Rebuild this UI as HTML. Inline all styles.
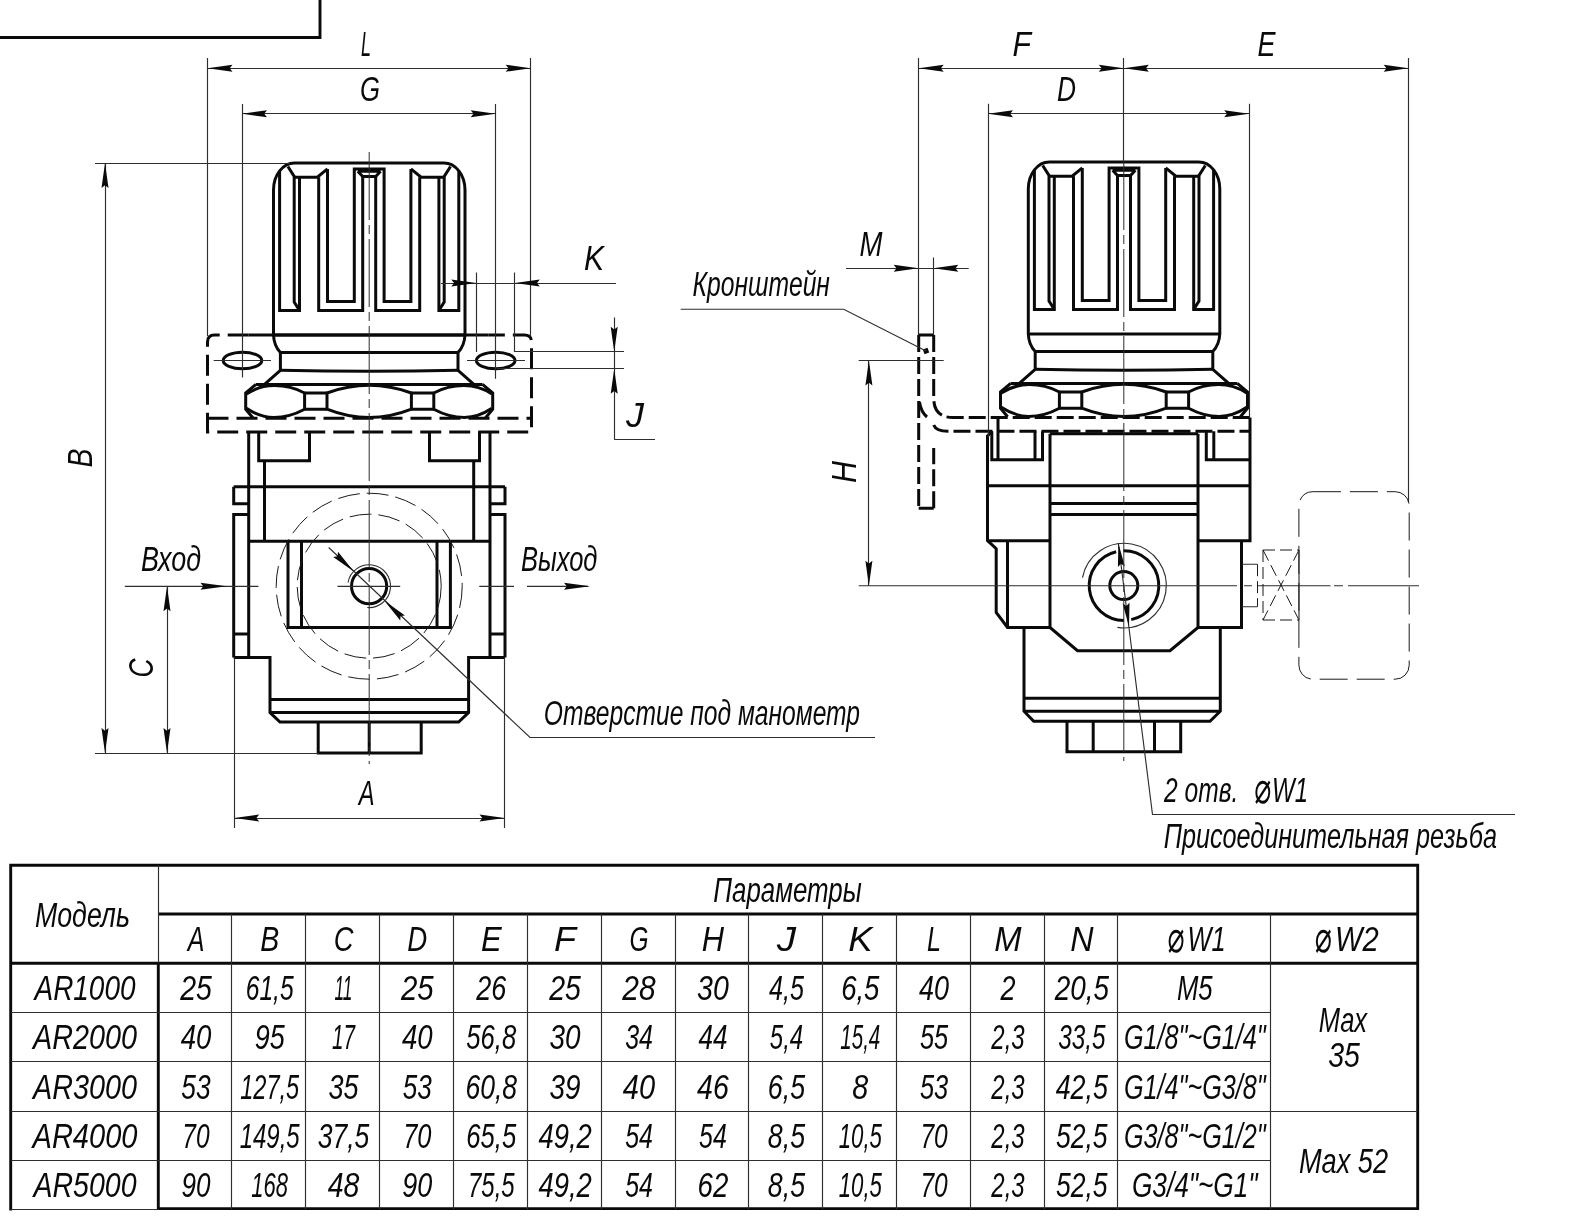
<!DOCTYPE html>
<html lang="ru"><head><meta charset="utf-8"><title>AR regulator dimensions</title>
<style>
html,body{margin:0;padding:0;background:#fff}
svg{display:block;filter:grayscale(1)}
.k{fill:none;stroke:#0a0a0a;stroke-width:3.0;stroke-linejoin:miter;stroke-linecap:butt}
.k3{fill:none;stroke:#0a0a0a;stroke-width:2.9}
.kd{fill:none;stroke:#0a0a0a;stroke-width:3.0;stroke-dasharray:21 8}
.kd2{fill:none;stroke:#0a0a0a;stroke-width:3.0;stroke-dasharray:17 5}
.n{fill:none;stroke:#2e2e2e;stroke-width:1.15}
.g{fill:none;stroke:#2e2e2e;stroke-width:1.15}
.nc{fill:none;stroke:#2e2e2e;stroke-width:1.0;stroke-dasharray:68 5 9 5}
.nd{fill:none;stroke:#1a1a1a;stroke-width:1.0;stroke-dasharray:22 7}
.nd2{fill:none;stroke:#1a1a1a;stroke-width:1.0;stroke-dasharray:28 9}
.nd3{fill:none;stroke:#1a1a1a;stroke-width:1.0;stroke-dasharray:12 5}
.ar{fill:#0a0a0a;stroke:none}
.t{font-family:"Liberation Sans","DejaVu Sans",sans-serif;font-style:italic;font-size:34.5px;fill:#0a0a0a}
.d{font-size:44px}
</style></head><body>
<svg width="1577" height="1231" viewBox="0 0 1577 1231">
<rect width="1577" height="1231" fill="#fff"/>
<defs>
<g id="ribs">
<path class="k" d="M279.6,171 V310.4 H299.5 V177.2"/>
<path class="k" d="M287.9,166.5 L294.2,176.5 V302 L299.5,310.4"/>
<path class="k" d="M294.2,177.2 H317.3 L327.5,168.9"/>
<path class="k" d="M318.7,177.2 V310.4 H362.7 V176.5"/>
<path class="k" d="M327.5,168.9 V301.6 H354.3 V168.9 H369.5"/>
<path class="k" d="M357.8,171.3 L362.7,176.5 H369.5 M357.8,171.3 H369.5"/>
</g>
<g id="knob">
<path class="k" d="M273.5,335 V190 A21,27 0 0 1 294.5,163 H444 A21,27 0 0 1 465,190 V335"/>
<use href="#ribs"/><use href="#ribs" transform="translate(738.4,0) scale(-1,1)"/>
<path class="k" d="M273.5,335 H465"/>
<path class="k" d="M273.5,335 Q274,346 280.4,352.5 V370.3 L264.5,384.4 M255.9,384.4 H482.5 M473.9,384.4 L458,370.3 V352.5 Q464.4,346 465,335"/>
<path class="k" d="M280.4,352.5 H458 M280.4,370.3 Q369,372.3 458,370.3"/>
<g id="lobe">
<path class="k" d="M255.9,384.4 L245.7,393 V409.2 L252.8,417.8"/>
<path class="k" d="M246.5,394 C255,388.5 264,385.6 274.5,385.6 C287,385.6 297,389 304.6,393 V409.2 C297,413.3 287,417.4 274,417.4 C264,417.4 255,414 246.5,408.3"/>
<path class="k" d="M304.6,393 H327 M304.6,409.2 H327"/>
</g>
<use href="#lobe" transform="translate(738.4,0) scale(-1,1)"/>
<path class="k" d="M327,393 V409.2 Q369.2,426 411.4,409.2 V393 Q369.2,377.6 327,393 Z"/>
</g>
</defs>
<path class="k3" d="M0,37.5 H320 V0"/>
<use href="#knob"/>
<path class="kd" d="M248.7,335 H214.5 Q207.5,335 207.5,342 V432 H531.5 V342 Q531.5,335 524.5,335 H488.7"/>
<path class="kd" d="M207.5,418.2 H531.5"/>
<path class="k" d="M248.7,335 H488.7"/>
<ellipse class="k" cx="242.5" cy="360.5" rx="19.3" ry="8.3"/>
<ellipse class="k" cx="495.7" cy="360.5" rx="19.3" ry="8.3"/>
<line class="n" x1="213.7" y1="360.5" x2="271.0" y2="360.5"/>
<line class="n" x1="467.0" y1="360.5" x2="525.0" y2="360.5"/>
<path class="k" d="M248.7,431.7 V657.5 M490,431.7 V657.5"/>
<path class="k" d="M258.7,431.7 V460.7 H309.5 V431.7 M429.5,431.7 V460.7 H479.5 V431.7"/>
<path class="k" d="M264.5,460.7 V541.2 M473.7,460.7 V541.2"/>
<path class="k" d="M233.7,486.7 H505"/>
<path class="k" d="M233.7,486.7 V503.7 H248.7 M248.7,514.5 H233.7 V657.5 M233.7,633.9 H248.7"/>
<path class="k" d="M505,486.7 V503.7 H490 M490,514.5 H505 V657.5 M505,633.9 H490"/>
<path class="k" d="M248.7,541.2 H490"/>
<path class="k" d="M288,541.2 V627.5 H450.4 V541.2 M301.5,541.2 V627.5 M437,541.2 V627.5"/>
<path class="k" d="M233.7,657.5 H270 V712.5 L280,722 H458.6 L468.6,712.5 V657.5 H505"/>
<path class="k" d="M270,699.5 H468.6 M270,712.5 H468.6"/>
<path class="k" d="M318.2,722 V753 H421.2 V722 M369.2,722 V753"/>
<circle class="nd" cx="369.2" cy="586.2" r="93"/>
<circle class="nd" cx="369.2" cy="586.2" r="72"/>
<circle class="k" cx="369.1" cy="586.2" r="17.6"/>
<path class="n" d="M348.03,582.48 A21.40,21.40 0 1 1 367.23,607.52"/>
<path class="nc" d="M369.2,152 V764"/>
<path class="n" d="M124.8,586.3 H258.4 M337.5,586.3 H400.2 M479.3,586.3 H514 M527,586.3 H588"/>
<line class="n" x1="207.5" y1="58.0" x2="207.5" y2="336.0"/>
<line class="n" x1="530.5" y1="58.0" x2="530.5" y2="336.0"/>
<line class="n" x1="207.5" y1="68.5" x2="530.7" y2="68.5"/>
<polygon class="ar" points="207.5,68.2 232.5,64.7 229.7,68.2 232.5,71.7"/>
<polygon class="ar" points="530.7,68.2 505.7,71.7 508.5,68.2 505.7,64.7"/>
<line class="n" x1="242.5" y1="104.0" x2="242.5" y2="377.5"/>
<line class="n" x1="495.5" y1="104.0" x2="495.5" y2="378.7"/>
<line class="n" x1="242.0" y1="113.5" x2="495.7" y2="113.5"/>
<polygon class="ar" points="242.0,113.7 267.0,110.2 264.2,113.7 267.0,117.2"/>
<polygon class="ar" points="495.7,113.7 470.7,117.2 473.5,113.7 470.7,110.2"/>
<line class="n" x1="95.0" y1="163.5" x2="290.0" y2="163.5"/>
<line class="n" x1="95.0" y1="753.5" x2="318.5" y2="753.5"/>
<line class="n" x1="105.5" y1="163.0" x2="105.5" y2="753.0"/>
<polygon class="ar" points="105.0,163.0 108.5,188.0 105.0,185.2 101.5,188.0"/>
<polygon class="ar" points="105.0,753.0 101.5,728.0 105.0,730.8 108.5,728.0"/>
<line class="n" x1="167.5" y1="586.3" x2="167.5" y2="753.0"/>
<polygon class="ar" points="167.0,586.3 170.5,611.3 167.0,608.5 163.5,611.3"/>
<polygon class="ar" points="167.0,753.0 163.5,728.0 167.0,730.8 170.5,728.0"/>
<polygon class="ar" points="226.5,586.3 200.5,589.8 203.3,586.3 200.5,582.8"/>
<polygon class="ar" points="590.0,586.3 564.0,589.8 566.8,586.3 564.0,582.8"/>
<line class="n" x1="476.5" y1="272.5" x2="476.5" y2="352.0"/>
<line class="n" x1="514.5" y1="272.5" x2="514.5" y2="352.0"/>
<line class="n" x1="441.0" y1="283.5" x2="616.0" y2="283.5"/>
<polygon class="ar" points="476.3,283.0 451.3,286.5 454.1,283.0 451.3,279.5"/>
<polygon class="ar" points="514.8,283.0 539.8,279.5 537.0,283.0 539.8,286.5"/>
<line class="n" x1="515.0" y1="351.5" x2="624.0" y2="351.5"/>
<line class="n" x1="497.0" y1="368.5" x2="624.0" y2="368.5"/>
<line class="n" x1="614.5" y1="317.5" x2="614.5" y2="439.5"/>
<line class="n" x1="614.2" y1="439.5" x2="655.0" y2="439.5"/>
<polygon class="ar" points="614.2,351.7 610.7,326.7 614.2,329.5 617.7,326.7"/>
<polygon class="ar" points="614.2,368.7 617.7,393.7 614.2,390.9 610.7,393.7"/>
<line class="n" x1="234.5" y1="657.5" x2="234.5" y2="828.0"/>
<line class="n" x1="504.5" y1="657.5" x2="504.5" y2="828.0"/>
<line class="n" x1="234.2" y1="818.5" x2="504.5" y2="818.5"/>
<polygon class="ar" points="234.2,818.0 259.2,814.5 256.4,818.0 259.2,821.5"/>
<polygon class="ar" points="504.5,818.0 479.5,821.5 482.3,818.0 479.5,814.5"/>
<path class="n" d="M328.7,547.5 L530,737.5 H875"/>
<polygon class="ar" points="353.8,571.5 333.2,556.9 337.6,556.3 338.0,551.8"/>
<polygon class="ar" points="384.4,600.8 405.0,615.4 400.6,616.0 400.2,620.5"/>
<use href="#knob" transform="translate(754.8,-1)"/>
<path class="k" d="M918.7,335 H933.7 M918.7,508.2 H933.7"/>
<path class="kd2" d="M918.7,335 V508.2 M933.7,335 V398 Q933.7,417.5 953,417.5 H1250"/>
<path class="kd2" d="M933.7,508.2 V448 M933.7,425 Q936,431.2 948,431.2 H1250"/>
<path class="k" d="M919.5,402 Q921,412 927,417"/>
<rect class="ar" x="923.5" y="348.5" width="5" height="5" transform="rotate(-20 926 351)"/>
<path class="k" d="M987.5,436 L992,431.2 M987.5,435 V540.5 L996.2,548.7 V612.5 L1007.5,627.5 H1050"/>
<path class="k" d="M998,417.5 V459.7 M991.8,431.2 V459.7 H1042.5 V431.2 M1035,431.2 V459.7"/>
<path class="k" d="M1050,433.7 H1198 M1050,433.7 V627.5 L1077.5,650.7 H1170 L1198,627.5 V433.7"/>
<path class="k" d="M987.5,485.7 H1250 M1050,503.5 H1198 M1050,514.5 H1198"/>
<path class="k" d="M987.5,540.7 H1050 M1007.5,540.7 V627.5"/>
<path class="k" d="M1250,417.5 V540.7 H1198 M1241.5,540.7 V627.5 H1198"/>
<path class="k" d="M1206.3,431.2 V459.7 H1250 M1213.8,431.2 V459.7"/>
<path class="k" d="M1024,627.5 V711.2 L1033.7,721.3 H1210 L1220.3,711.2 V627.5 M1024,698.2 H1220.3 M1024,711.2 H1220.3"/>
<path class="k" d="M1067,721.3 V751.8 H1180.7 V721.3 M1093.2,721.3 V751.8 M1154.5,721.3 V751.8"/>
<circle class="k" cx="1123.8" cy="585.6" r="14"/>
<path class="k" d="M1123.39,550.81 A34.80,34.80 0 0 1 1131.24,619.64"/>
<path class="k" d="M1124.00,620.40 A34.80,34.80 0 0 1 1116.17,551.69"/>
<path class="n" d="M1082.48,577.53 A42.30,42.30 0 1 1 1117.38,627.38"/>
<path class="n" d="M1118.3,543 L1152.5,814.5 H1515"/>
<polygon class="ar" points="1118.4,543.3 1124.8,566.2 1121.0,563.8 1117.9,567.1"/>
<polygon class="ar" points="1129.0,626.5 1122.6,603.6 1126.4,606.0 1129.5,602.7"/>
<line class="n" x1="1123.5" y1="58.0" x2="1123.5" y2="162.0"/>
<path class="nc" d="M1123.8,162 V761"/>
<path class="n" d="M858.7,585.7 H1237 M1244,585.7 H1252 M1258,585.7 H1330.5 M1334,585.7 H1343 M1348,585.7 H1419"/>
<line class="n" x1="918.5" y1="58.0" x2="918.5" y2="335.0"/>
<line class="n" x1="1408.5" y1="58.0" x2="1408.5" y2="502.0"/>
<line class="n" x1="918.7" y1="68.5" x2="1408.7" y2="68.5"/>
<polygon class="ar" points="918.7,68.2 943.7,64.7 940.9,68.2 943.7,71.7"/>
<polygon class="ar" points="1123.8,68.2 1098.8,71.7 1101.6,68.2 1098.8,64.7"/>
<polygon class="ar" points="1123.8,68.2 1148.8,64.7 1146.0,68.2 1148.8,71.7"/>
<polygon class="ar" points="1408.7,68.2 1383.7,71.7 1386.5,68.2 1383.7,64.7"/>
<line class="n" x1="988.5" y1="103.7" x2="988.5" y2="437.0"/>
<line class="n" x1="1249.5" y1="103.7" x2="1249.5" y2="417.0"/>
<line class="n" x1="988.0" y1="113.5" x2="1249.2" y2="113.5"/>
<polygon class="ar" points="988.0,113.7 1013.0,110.2 1010.2,113.7 1013.0,117.2"/>
<polygon class="ar" points="1249.2,113.7 1224.2,117.2 1227.0,113.7 1224.2,110.2"/>
<line class="n" x1="933.5" y1="257.5" x2="933.5" y2="335.0"/>
<line class="n" x1="846.0" y1="268.5" x2="968.7" y2="268.5"/>
<polygon class="ar" points="918.7,268.2 893.7,271.7 896.5,268.2 893.7,264.7"/>
<polygon class="ar" points="933.3,268.2 958.3,264.7 955.5,268.2 958.3,271.7"/>
<line class="n" x1="858.7" y1="360.5" x2="943.7" y2="360.5"/>
<line class="n" x1="868.5" y1="360.5" x2="868.5" y2="585.7"/>
<polygon class="ar" points="868.9,360.5 872.4,385.5 868.9,382.7 865.4,385.5"/>
<polygon class="ar" points="868.9,585.7 865.4,560.7 868.9,563.5 872.4,560.7"/>
<path class="n" d="M680.7,309.2 H843.7 L926,351"/>
<rect class="nd2" x="1298.9" y="491.7" width="110.3" height="187.5" rx="14" ry="14"/>
<path class="nd3" d="M1263,550 H1299 M1263,620 H1299 M1263,550 V620 M1263,550 L1299,620 M1299,550 L1263,620 M1257.5,564.2 V606.7"/>
<path class="n" d="M1241.7,564.2 H1257.5 M1241.7,606.7 H1257.5 M1299,550 V620"/>
<text class="t" x="366.0" y="56.0" text-anchor="middle" textLength="10.0" lengthAdjust="spacingAndGlyphs">L</text>
<text class="t" x="370.0" y="101.0" text-anchor="middle" textLength="20.0" lengthAdjust="spacingAndGlyphs">G</text>
<text class="t" x="1021.8" y="55.5" text-anchor="middle" textLength="18.5" lengthAdjust="spacingAndGlyphs">F</text>
<text class="t" x="1066.5" y="101.0" text-anchor="middle" textLength="19.0" lengthAdjust="spacingAndGlyphs">D</text>
<text class="t" x="1266.5" y="55.5" text-anchor="middle" textLength="18.0" lengthAdjust="spacingAndGlyphs">E</text>
<text class="t" x="594.0" y="270.0" text-anchor="middle" textLength="20.0" lengthAdjust="spacingAndGlyphs">K</text>
<text class="t" x="635.0" y="427.0" text-anchor="middle" textLength="18.0" lengthAdjust="spacingAndGlyphs">J</text>
<text class="t" x="871.0" y="256.0" text-anchor="middle" textLength="23.0" lengthAdjust="spacingAndGlyphs">M</text>
<text class="t" x="366.6" y="805.0" text-anchor="middle" textLength="15.8" lengthAdjust="spacingAndGlyphs">A</text>
<text class="t" x="92.0" y="458.0" text-anchor="middle" textLength="19.0" lengthAdjust="spacingAndGlyphs" transform="rotate(-90 92.0 458.0)">B</text>
<text class="t" x="153.0" y="668.0" text-anchor="middle" textLength="19.0" lengthAdjust="spacingAndGlyphs" transform="rotate(-90 153.0 668.0)">C</text>
<text class="t" x="856.0" y="472.0" text-anchor="middle" textLength="22.0" lengthAdjust="spacingAndGlyphs" transform="rotate(-90 856.0 472.0)">H</text>
<text class="t" x="171.0" y="571.0" text-anchor="middle" textLength="60.0" lengthAdjust="spacingAndGlyphs">Вход</text>
<text class="t" x="559.2" y="570.7" text-anchor="middle" textLength="76.5" lengthAdjust="spacingAndGlyphs">Выход</text>
<text class="t" x="761.2" y="296.0" text-anchor="middle" textLength="137.5" lengthAdjust="spacingAndGlyphs">Кронштейн</text>
<text class="t" x="701.9" y="725.0" text-anchor="middle" textLength="316.3" lengthAdjust="spacingAndGlyphs">Отверстие под манометр</text>
<text class="t" x="1201.2" y="802.0" text-anchor="middle" textLength="74.3" lengthAdjust="spacingAndGlyphs">2 отв.</text>
<text class="t d" x="1262.0" y="802.5" text-anchor="middle" textLength="17.1" lengthAdjust="spacingAndGlyphs">⌀</text>
<text class="t" x="1290.0" y="802.0" text-anchor="middle" textLength="36.0" lengthAdjust="spacingAndGlyphs">W1</text>
<text class="t" x="1330.3" y="847.5" text-anchor="middle" textLength="333.3" lengthAdjust="spacingAndGlyphs">Присоединительная резьба</text>
<path class="k3" d="M10.7,1210.5 V865.2 H1417.7 V1208.6 H158.3 V963.3"/>
<path class="k3" d="M158.3,914 H1417.7 M11,963.3 H1417.7"/>
<line class="g" x1="158.5" y1="865.0" x2="158.5" y2="963.3"/>
<line class="g" x1="231.5" y1="914.0" x2="231.5" y2="1209.3"/>
<line class="g" x1="305.5" y1="914.0" x2="305.5" y2="1209.3"/>
<line class="g" x1="379.5" y1="914.0" x2="379.5" y2="1209.3"/>
<line class="g" x1="453.5" y1="914.0" x2="453.5" y2="1209.3"/>
<line class="g" x1="527.5" y1="914.0" x2="527.5" y2="1209.3"/>
<line class="g" x1="601.5" y1="914.0" x2="601.5" y2="1209.3"/>
<line class="g" x1="675.5" y1="914.0" x2="675.5" y2="1209.3"/>
<line class="g" x1="748.5" y1="914.0" x2="748.5" y2="1209.3"/>
<line class="g" x1="822.5" y1="914.0" x2="822.5" y2="1209.3"/>
<line class="g" x1="896.5" y1="914.0" x2="896.5" y2="1209.3"/>
<line class="g" x1="970.5" y1="914.0" x2="970.5" y2="1209.3"/>
<line class="g" x1="1044.5" y1="914.0" x2="1044.5" y2="1209.3"/>
<line class="g" x1="1117.5" y1="914.0" x2="1117.5" y2="1209.3"/>
<line class="g" x1="1270.5" y1="914.0" x2="1270.5" y2="1209.3"/>
<line class="g" x1="11.0" y1="1012.5" x2="1270.0" y2="1012.5"/>
<line class="g" x1="11.0" y1="1061.5" x2="1270.0" y2="1061.5"/>
<line class="g" x1="11.0" y1="1111.5" x2="1417.7" y2="1111.5"/>
<line class="g" x1="11.0" y1="1160.5" x2="1270.0" y2="1160.5"/>
<line class="g" x1="11.0" y1="1209.5" x2="158.3" y2="1209.5"/>
<text class="t" x="82.5" y="927.0" text-anchor="middle" textLength="95.0" lengthAdjust="spacingAndGlyphs">Модель</text>
<text class="t" x="787.5" y="902.3" text-anchor="middle" textLength="148.5" lengthAdjust="spacingAndGlyphs">Параметры</text>
<text class="t d" x="1175.2" y="951.8" text-anchor="middle" textLength="17.1" lengthAdjust="spacingAndGlyphs">⌀</text>
<text class="t" x="1206.5" y="951.3" text-anchor="middle" textLength="38.1" lengthAdjust="spacingAndGlyphs">W1</text>
<text class="t d" x="1322.6" y="951.8" text-anchor="middle" textLength="17.2" lengthAdjust="spacingAndGlyphs">⌀</text>
<text class="t" x="1356.8" y="951.3" text-anchor="middle" textLength="43.7" lengthAdjust="spacingAndGlyphs">W2</text>
<text class="t" x="196.0" y="951.0" text-anchor="middle" textLength="16.7" lengthAdjust="spacingAndGlyphs">A</text>
<text class="t" x="269.7" y="951.0" text-anchor="middle" textLength="19.0" lengthAdjust="spacingAndGlyphs">B</text>
<text class="t" x="343.5" y="951.0" text-anchor="middle" textLength="19.7" lengthAdjust="spacingAndGlyphs">C</text>
<text class="t" x="417.3" y="951.0" text-anchor="middle" textLength="20.0" lengthAdjust="spacingAndGlyphs">D</text>
<text class="t" x="491.3" y="951.0" text-anchor="middle" textLength="20.7" lengthAdjust="spacingAndGlyphs">E</text>
<text class="t" x="565.1" y="951.0" text-anchor="middle" textLength="22.0" lengthAdjust="spacingAndGlyphs">F</text>
<text class="t" x="639.0" y="951.0" text-anchor="middle" textLength="19.0" lengthAdjust="spacingAndGlyphs">G</text>
<text class="t" x="712.9" y="951.0" text-anchor="middle" textLength="22.3" lengthAdjust="spacingAndGlyphs">H</text>
<text class="t" x="786.5" y="951.0" text-anchor="middle" textLength="19.3" lengthAdjust="spacingAndGlyphs">J</text>
<text class="t" x="860.3" y="951.0" text-anchor="middle" textLength="24.3" lengthAdjust="spacingAndGlyphs">K</text>
<text class="t" x="934.1" y="951.0" text-anchor="middle" textLength="14.0" lengthAdjust="spacingAndGlyphs">L</text>
<text class="t" x="1008.0" y="951.0" text-anchor="middle" textLength="27.3" lengthAdjust="spacingAndGlyphs">M</text>
<text class="t" x="1081.8" y="951.0" text-anchor="middle" textLength="23.3" lengthAdjust="spacingAndGlyphs">N</text>
<text class="t" x="85.0" y="1000.0" text-anchor="middle" textLength="101.0" lengthAdjust="spacingAndGlyphs">AR1000</text>
<text class="t" x="196.0" y="1000.0" text-anchor="middle" textLength="31.7" lengthAdjust="spacingAndGlyphs">25</text>
<text class="t" x="269.7" y="1000.0" text-anchor="middle" textLength="48.0" lengthAdjust="spacingAndGlyphs">61,5</text>
<text class="t" x="343.5" y="1000.0" text-anchor="middle" textLength="18.0" lengthAdjust="spacingAndGlyphs">11</text>
<text class="t" x="417.3" y="1000.0" text-anchor="middle" textLength="32.7" lengthAdjust="spacingAndGlyphs">25</text>
<text class="t" x="491.3" y="1000.0" text-anchor="middle" textLength="30.0" lengthAdjust="spacingAndGlyphs">26</text>
<text class="t" x="565.1" y="1000.0" text-anchor="middle" textLength="31.7" lengthAdjust="spacingAndGlyphs">25</text>
<text class="t" x="639.0" y="1000.0" text-anchor="middle" textLength="33.3" lengthAdjust="spacingAndGlyphs">28</text>
<text class="t" x="712.9" y="1000.0" text-anchor="middle" textLength="31.7" lengthAdjust="spacingAndGlyphs">30</text>
<text class="t" x="786.5" y="1000.0" text-anchor="middle" textLength="35.0" lengthAdjust="spacingAndGlyphs">4,5</text>
<text class="t" x="860.3" y="1000.0" text-anchor="middle" textLength="38.3" lengthAdjust="spacingAndGlyphs">6,5</text>
<text class="t" x="934.1" y="1000.0" text-anchor="middle" textLength="30.0" lengthAdjust="spacingAndGlyphs">40</text>
<text class="t" x="1008.0" y="1000.0" text-anchor="middle" textLength="15.0" lengthAdjust="spacingAndGlyphs">2</text>
<text class="t" x="1081.8" y="1000.0" text-anchor="middle" textLength="54.3" lengthAdjust="spacingAndGlyphs">20,5</text>
<text class="t" x="1194.8" y="1000.0" text-anchor="middle" textLength="35.7" lengthAdjust="spacingAndGlyphs">M5</text>
<text class="t" x="85.0" y="1049.3" text-anchor="middle" textLength="104.0" lengthAdjust="spacingAndGlyphs">AR2000</text>
<text class="t" x="196.0" y="1049.3" text-anchor="middle" textLength="30.7" lengthAdjust="spacingAndGlyphs">40</text>
<text class="t" x="269.7" y="1049.3" text-anchor="middle" textLength="30.0" lengthAdjust="spacingAndGlyphs">95</text>
<text class="t" x="343.5" y="1049.3" text-anchor="middle" textLength="23.0" lengthAdjust="spacingAndGlyphs">17</text>
<text class="t" x="417.3" y="1049.3" text-anchor="middle" textLength="30.7" lengthAdjust="spacingAndGlyphs">40</text>
<text class="t" x="491.3" y="1049.3" text-anchor="middle" textLength="50.0" lengthAdjust="spacingAndGlyphs">56,8</text>
<text class="t" x="565.1" y="1049.3" text-anchor="middle" textLength="31.0" lengthAdjust="spacingAndGlyphs">30</text>
<text class="t" x="639.0" y="1049.3" text-anchor="middle" textLength="27.7" lengthAdjust="spacingAndGlyphs">34</text>
<text class="t" x="712.9" y="1049.3" text-anchor="middle" textLength="29.0" lengthAdjust="spacingAndGlyphs">44</text>
<text class="t" x="786.5" y="1049.3" text-anchor="middle" textLength="33.3" lengthAdjust="spacingAndGlyphs">5,4</text>
<text class="t" x="860.3" y="1049.3" text-anchor="middle" textLength="40.0" lengthAdjust="spacingAndGlyphs">15,4</text>
<text class="t" x="934.1" y="1049.3" text-anchor="middle" textLength="28.3" lengthAdjust="spacingAndGlyphs">55</text>
<text class="t" x="1008.0" y="1049.3" text-anchor="middle" textLength="33.3" lengthAdjust="spacingAndGlyphs">2,3</text>
<text class="t" x="1081.8" y="1049.3" text-anchor="middle" textLength="47.3" lengthAdjust="spacingAndGlyphs">33,5</text>
<text class="t" x="1194.8" y="1049.3" text-anchor="middle" textLength="141.7" lengthAdjust="spacingAndGlyphs">G1/8&quot;~G1/4&quot;</text>
<text class="t" x="85.0" y="1098.7" text-anchor="middle" textLength="104.0" lengthAdjust="spacingAndGlyphs">AR3000</text>
<text class="t" x="196.0" y="1098.7" text-anchor="middle" textLength="29.3" lengthAdjust="spacingAndGlyphs">53</text>
<text class="t" x="269.7" y="1098.7" text-anchor="middle" textLength="59.0" lengthAdjust="spacingAndGlyphs">127,5</text>
<text class="t" x="343.5" y="1098.7" text-anchor="middle" textLength="30.0" lengthAdjust="spacingAndGlyphs">35</text>
<text class="t" x="417.3" y="1098.7" text-anchor="middle" textLength="29.0" lengthAdjust="spacingAndGlyphs">53</text>
<text class="t" x="491.3" y="1098.7" text-anchor="middle" textLength="51.7" lengthAdjust="spacingAndGlyphs">60,8</text>
<text class="t" x="565.1" y="1098.7" text-anchor="middle" textLength="31.0" lengthAdjust="spacingAndGlyphs">39</text>
<text class="t" x="639.0" y="1098.7" text-anchor="middle" textLength="32.3" lengthAdjust="spacingAndGlyphs">40</text>
<text class="t" x="712.9" y="1098.7" text-anchor="middle" textLength="31.7" lengthAdjust="spacingAndGlyphs">46</text>
<text class="t" x="786.5" y="1098.7" text-anchor="middle" textLength="37.3" lengthAdjust="spacingAndGlyphs">6,5</text>
<text class="t" x="860.3" y="1098.7" text-anchor="middle" textLength="16.0" lengthAdjust="spacingAndGlyphs">8</text>
<text class="t" x="934.1" y="1098.7" text-anchor="middle" textLength="28.3" lengthAdjust="spacingAndGlyphs">53</text>
<text class="t" x="1008.0" y="1098.7" text-anchor="middle" textLength="33.3" lengthAdjust="spacingAndGlyphs">2,3</text>
<text class="t" x="1081.8" y="1098.7" text-anchor="middle" textLength="52.3" lengthAdjust="spacingAndGlyphs">42,5</text>
<text class="t" x="1194.8" y="1098.7" text-anchor="middle" textLength="141.7" lengthAdjust="spacingAndGlyphs">G1/4&quot;~G3/8&quot;</text>
<text class="t" x="85.0" y="1148.0" text-anchor="middle" textLength="105.0" lengthAdjust="spacingAndGlyphs">AR4000</text>
<text class="t" x="196.0" y="1148.0" text-anchor="middle" textLength="27.3" lengthAdjust="spacingAndGlyphs">70</text>
<text class="t" x="269.7" y="1148.0" text-anchor="middle" textLength="60.0" lengthAdjust="spacingAndGlyphs">149,5</text>
<text class="t" x="343.5" y="1148.0" text-anchor="middle" textLength="51.7" lengthAdjust="spacingAndGlyphs">37,5</text>
<text class="t" x="417.3" y="1148.0" text-anchor="middle" textLength="28.3" lengthAdjust="spacingAndGlyphs">70</text>
<text class="t" x="491.3" y="1148.0" text-anchor="middle" textLength="50.0" lengthAdjust="spacingAndGlyphs">65,5</text>
<text class="t" x="565.1" y="1148.0" text-anchor="middle" textLength="53.3" lengthAdjust="spacingAndGlyphs">49,2</text>
<text class="t" x="639.0" y="1148.0" text-anchor="middle" textLength="27.7" lengthAdjust="spacingAndGlyphs">54</text>
<text class="t" x="712.9" y="1148.0" text-anchor="middle" textLength="27.7" lengthAdjust="spacingAndGlyphs">54</text>
<text class="t" x="786.5" y="1148.0" text-anchor="middle" textLength="37.3" lengthAdjust="spacingAndGlyphs">8,5</text>
<text class="t" x="860.3" y="1148.0" text-anchor="middle" textLength="43.3" lengthAdjust="spacingAndGlyphs">10,5</text>
<text class="t" x="934.1" y="1148.0" text-anchor="middle" textLength="27.3" lengthAdjust="spacingAndGlyphs">70</text>
<text class="t" x="1008.0" y="1148.0" text-anchor="middle" textLength="33.3" lengthAdjust="spacingAndGlyphs">2,3</text>
<text class="t" x="1081.8" y="1148.0" text-anchor="middle" textLength="51.7" lengthAdjust="spacingAndGlyphs">52,5</text>
<text class="t" x="1194.8" y="1148.0" text-anchor="middle" textLength="141.7" lengthAdjust="spacingAndGlyphs">G3/8&quot;~G1/2&quot;</text>
<text class="t" x="85.0" y="1197.3" text-anchor="middle" textLength="103.0" lengthAdjust="spacingAndGlyphs">AR5000</text>
<text class="t" x="196.0" y="1197.3" text-anchor="middle" textLength="29.0" lengthAdjust="spacingAndGlyphs">90</text>
<text class="t" x="269.7" y="1197.3" text-anchor="middle" textLength="36.7" lengthAdjust="spacingAndGlyphs">168</text>
<text class="t" x="343.5" y="1197.3" text-anchor="middle" textLength="31.7" lengthAdjust="spacingAndGlyphs">48</text>
<text class="t" x="417.3" y="1197.3" text-anchor="middle" textLength="30.0" lengthAdjust="spacingAndGlyphs">90</text>
<text class="t" x="491.3" y="1197.3" text-anchor="middle" textLength="46.7" lengthAdjust="spacingAndGlyphs">75,5</text>
<text class="t" x="565.1" y="1197.3" text-anchor="middle" textLength="53.3" lengthAdjust="spacingAndGlyphs">49,2</text>
<text class="t" x="639.0" y="1197.3" text-anchor="middle" textLength="27.7" lengthAdjust="spacingAndGlyphs">54</text>
<text class="t" x="712.9" y="1197.3" text-anchor="middle" textLength="30.7" lengthAdjust="spacingAndGlyphs">62</text>
<text class="t" x="786.5" y="1197.3" text-anchor="middle" textLength="37.3" lengthAdjust="spacingAndGlyphs">8,5</text>
<text class="t" x="860.3" y="1197.3" text-anchor="middle" textLength="43.3" lengthAdjust="spacingAndGlyphs">10,5</text>
<text class="t" x="934.1" y="1197.3" text-anchor="middle" textLength="27.3" lengthAdjust="spacingAndGlyphs">70</text>
<text class="t" x="1008.0" y="1197.3" text-anchor="middle" textLength="33.3" lengthAdjust="spacingAndGlyphs">2,3</text>
<text class="t" x="1081.8" y="1197.3" text-anchor="middle" textLength="51.7" lengthAdjust="spacingAndGlyphs">52,5</text>
<text class="t" x="1194.8" y="1197.3" text-anchor="middle" textLength="125.7" lengthAdjust="spacingAndGlyphs">G3/4&quot;~G1&quot;</text>
<text class="t" x="1343.0" y="1031.7" text-anchor="middle" textLength="48.3" lengthAdjust="spacingAndGlyphs">Max</text>
<text class="t" x="1344.0" y="1066.7" text-anchor="middle" textLength="31.7" lengthAdjust="spacingAndGlyphs">35</text>
<text class="t" x="1343.5" y="1172.7" text-anchor="middle" textLength="89.0" lengthAdjust="spacingAndGlyphs">Max 52</text>
</svg>
</body></html>
